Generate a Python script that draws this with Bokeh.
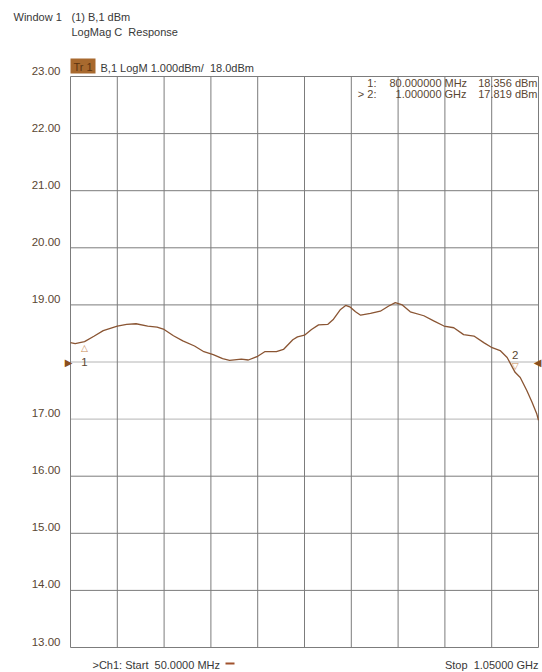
from bokeh.plotting import figure
from bokeh.core.properties import value
from bokeh.embed import file_html
from bokeh.resources import INLINE

# ---------------- data ----------------
freq_mhz = [50, 60, 80, 100, 120, 150, 170, 190, 215, 235,
            250, 270, 290, 315, 335, 355, 375, 390, 415, 430,
            450, 465, 490, 505, 525, 535, 550, 565, 580, 600,
            612, 627, 638, 648, 659, 670, 691, 712, 730, 744,
            759, 776, 805, 826, 848, 869, 890, 912, 933, 951,
            968, 983, 1000, 1011, 1025, 1036, 1046, 1050]
mag_dbm = [18.34, 18.32, 18.356, 18.45, 18.55, 18.63, 18.66, 18.67, 18.63, 18.61,
           18.57, 18.46, 18.37, 18.28, 18.18, 18.13, 18.06, 18.03, 18.05, 18.035,
           18.10, 18.18, 18.18, 18.22, 18.39, 18.44, 18.47, 18.57, 18.65, 18.66,
           18.75, 18.92, 18.99, 18.96, 18.88, 18.82, 18.85, 18.89, 18.98, 19.04,
           19.00, 18.88, 18.81, 18.72, 18.63, 18.60, 18.48, 18.455, 18.34, 18.25,
           18.20, 18.08, 17.819, 17.73, 17.50, 17.30, 17.10, 16.98]

marker_ids = ["1", "2"]
marker_prefix = ["1:", "> 2:"]
marker_freq_mhz = [80, 1000]
marker_freq_text = ["80.000000", "1.000000"]
marker_unit_text = ["MHz", "GHz"]
marker_dbm = [18.356, 17.819]

y_ticks = [13, 14, 15, 16, 17, 18, 19, 20, 21, 22, 23]
x_ticks = [50, 150, 250, 350, 450, 550, 650, 750, 850, 950, 1050]
start_mhz, stop_mhz = 50, 1050
ref_level = 18.0
y_min, y_max = 13, 23

# ---------------- layout (pixels) ----------------
W, H = 542, 672
BOX_L, BOX_T, BOX_W, BOX_H = 70, 76, 468, 571
KX = BOX_W / (stop_mhz - start_mhz)
KY = BOX_H / (y_max - y_min)
NB = "\u00a0"


def px2x(px):
    return start_mhz + (px - BOX_L) / KX


def py2y(py):
    return y_max - (py - BOX_T) / KY


TRACE = "#8a5533"
TXT = "#383838"
BRN = "#5a4632"
GRID = "#7c7c7c"
FONT = "Liberation Sans"

p = figure(width=W, height=H, x_range=(px2x(0), px2x(W)), y_range=(py2y(H), py2y(0)),
           output_backend="svg", toolbar_location=None,
           x_axis_location=None, y_axis_location=None,
           min_border=0, background_fill_color="white", border_fill_color="white",
           outline_line_color=None)
for g in p.grid:
    g.visible = False

# graticule (drawn from the tick arrays)
light = [t for t in y_ticks if t in (17, 18)]
dark = [t for t in y_ticks if t not in (17, 18)]
p.segment(x0=[start_mhz] * len(dark), y0=dark, x1=[stop_mhz] * len(dark), y1=dark,
          line_color=GRID, line_width=1)
p.segment(x0=[start_mhz] * len(light), y0=light, x1=[stop_mhz] * len(light), y1=light,
          line_color="#b4b4b4", line_width=1)
p.segment(x0=x_ticks, y0=[y_min] * len(x_ticks), x1=x_ticks, y1=[y_max] * len(x_ticks),
          line_color=GRID, line_width=1)

# y tick labels (reference level label replaced by arrow)
lbl_ticks = [t for t in y_ticks if t != ref_level]
p.text(x=[px2x(60)] * len(lbl_ticks), y=lbl_ticks, text=[f"{t:.2f}" for t in lbl_ticks],
       text_align="right", text_baseline="middle", y_offset=-6,
       text_font=value(FONT), text_font_size="11.5px", text_color=BRN)

# trace
p.line(freq_mhz, mag_dbm, line_color=TRACE, line_width=1.3)

# marker symbols and numbers
p.text(x=marker_freq_mhz[:1], y=marker_dbm[:1], text=["\u25b3"], text_align="center",
       text_baseline="middle", y_offset=6, text_font=value("DejaVu Sans"),
       text_font_size="9px", text_color="#c88a55")
p.text(x=marker_freq_mhz[1:], y=marker_dbm[1:], text=["\u25bd"], text_align="center",
       text_baseline="middle", y_offset=-6, text_font=value("DejaVu Sans"),
       text_font_size="9px", text_color="#c88a55")
p.text(x=marker_freq_mhz[:1], y=marker_dbm[:1], text=marker_ids[:1], text_align="center",
       text_baseline="middle", y_offset=20, text_font=value(FONT),
       text_font_size="11.5px", text_color=BRN)
p.text(x=marker_freq_mhz[1:], y=marker_dbm[1:], text=marker_ids[1:], text_align="center",
       text_baseline="middle", y_offset=-17, text_font=value(FONT),
       text_font_size="11.5px", text_color=BRN)


def txt(text, px, py, align="left", size="11px", color=TXT, font=FONT, **kw):
    p.text(x=[px2x(px)], y=[py2y(py)], text=[text], text_align=align,
           text_baseline="middle", text_font=value(font), text_font_size=size,
           text_color=color, **kw)


# header texts
txt("Window 1", 13, 16)
txt("(1) B,1 dBm", 71, 16)
txt(f"LogMag C{NB}{NB}Response", 71, 31)
p.quad(left=[px2x(70)], right=[px2x(95)], top=[py2y(58)], bottom=[py2y(73)],
       fill_color="#a8692e", line_color=None)
txt("Tr 1", 82.5, 66, align="center", color="#5c3410")
txt(f"B,1 LogM 1.000dBm/{NB}{NB}18.0dBm", 100, 67)

# marker readout
row_y = [82.5, 93.5]
for i in range(2):
    txt(marker_prefix[i], 376, row_y[i], align="right", color=BRN)
    txt(marker_freq_text[i], 441, row_y[i], align="right", color=BRN)
    txt(marker_unit_text[i], 444, row_y[i], color=BRN)
    txt(f"{marker_dbm[i]:.3f} dBm", 537, row_y[i], align="right", color=BRN)

# reference level arrows
p.text(x=[start_mhz], y=[ref_level], text=["\u25b6"], text_align="right",
       text_baseline="middle", x_offset=2, text_font=value("DejaVu Sans"),
       text_font_size="10px", text_color="#8a4f1e")
p.text(x=[stop_mhz], y=[ref_level], text=["\u25c0"], text_align="right",
       text_baseline="middle", x_offset=3, text_font=value("DejaVu Sans"),
       text_font_size="10px", text_color="#8a4f1e")

# footer
txt(f">Ch1: Start{NB}{NB}50.0000 MHz", 92, 664)
p.quad(left=[px2x(225)], right=[px2x(234)], top=[py2y(662)], bottom=[py2y(664)],
       fill_color="#a0522d", line_color=None)
txt(f"Stop{NB}{NB}1.05000 GHz", 538, 664, align="right")

open("out.html", "w").write(file_html(p, INLINE))
